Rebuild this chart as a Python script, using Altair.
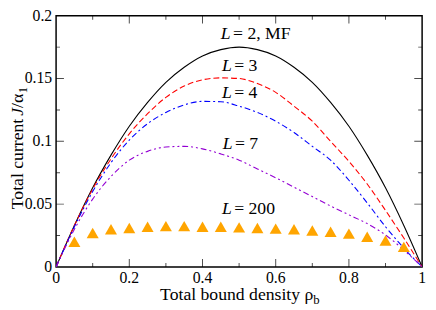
import altair as alt
import pandas as pd

# ---- data ----
rho = [0.0, 0.05, 0.10, 0.15, 0.20, 0.25, 0.30, 0.35, 0.40, 0.45, 0.50,
       0.55, 0.60, 0.65, 0.70, 0.75, 0.80, 0.85, 0.90, 0.95, 1.0]
j_l2 = [0.0, 0.033, 0.063, 0.089, 0.112, 0.131, 0.147, 0.159, 0.168, 0.173, 0.175,
        0.173, 0.168, 0.159, 0.147, 0.131, 0.112, 0.089, 0.063, 0.033, 0.0]
j_l3 = [0.0, 0.033, 0.062, 0.086, 0.106, 0.122, 0.135, 0.144, 0.149, 0.1505, 0.150,
        0.146, 0.139, 0.128, 0.116, 0.100, 0.084, 0.066, 0.045, 0.023, 0.0]
j_l4 = [0.0, 0.032, 0.060, 0.083, 0.101, 0.114, 0.123, 0.129, 0.1318, 0.1315, 0.128,
        0.123, 0.116, 0.107, 0.096, 0.085, 0.069, 0.051, 0.032, 0.015, 0.0]
j_l7 = [0.0, 0.030, 0.054, 0.072, 0.085, 0.092, 0.0955, 0.096, 0.094, 0.090, 0.085,
        0.078, 0.071, 0.0635, 0.056, 0.0485, 0.0415, 0.0345, 0.0255, 0.0135, 0.0]
rho_l200 = [0.05, 0.10, 0.15, 0.20, 0.25, 0.30, 0.35, 0.40, 0.45, 0.50,
            0.55, 0.60, 0.65, 0.70, 0.75, 0.80, 0.85, 0.90, 0.95]
j_l200 = [0.020, 0.027, 0.030, 0.031, 0.032, 0.0325, 0.0325, 0.032, 0.032, 0.0315,
          0.031, 0.0305, 0.030, 0.029, 0.028, 0.0265, 0.024, 0.021, 0.016]

label_x = [0.450, 0.453, 0.453, 0.455, 0.453]
label_y = [0.1812, 0.1563, 0.1341, 0.0939, 0.0421]
label_rest = ["= 2, MF", "= 3", "= 4", "= 7", "= 200"]

x_ticks = [0, 0.2, 0.4, 0.6, 0.8, 1]
x_tick_labels = ["0", "0.2", "0.4", "0.6", "0.8", "1"]
y_ticks = [0, 0.05, 0.1, 0.15, 0.2]
y_tick_labels = ["0", "0.05", "0.1", "0.15", "0.2"]
x_minor = [0.1, 0.3, 0.5, 0.7, 0.9]
y_minor = [0.025, 0.075, 0.125, 0.175]

# ---- chart ----
W, H = 373, 256
FONT = "Liberation Serif"
xs = alt.Scale(domain=[0, 1], nice=False, zero=False)
ys = alt.Scale(domain=[0, 0.2], nice=False, zero=False)


def X(f):
    return alt.X(f, scale=xs, axis=None)


def Y(f):
    return alt.Y(f, scale=ys, axis=None)


def curve(vals, color, dash=None):
    df = pd.DataFrame({"rho": rho, "J": vals})
    kw = dict(color=color, strokeWidth=1.1, interpolate="monotone", clip=True)
    if dash:
        kw["strokeDash"] = dash
    return alt.Chart(df).mark_line(**kw).encode(x=X("rho:Q"), y=Y("J:Q"))


lines = [
    curve(j_l2, "black"),
    curve(j_l3, "#ff0000", [6, 3]),
    curve(j_l4, "#0000ff", [6, 3, 2, 3]),
    curve(j_l7, "#9400d3", [6, 3, 2, 3, 2, 3]),
]

tri = alt.Chart(pd.DataFrame({"rho": rho_l200, "J": j_l200})).mark_point(
    shape="triangle-up", filled=True, size=150, color="#ffa500", opacity=1
).encode(x=X("rho:Q"), y=Y("J:Q"))


def xtick(vals, pos, size):
    return alt.Chart(pd.DataFrame({"rho": vals})).mark_tick(
        color="black", size=size, thickness=1, clip=True
    ).encode(x=X("rho:Q"), y=alt.value(pos))


def ytick(vals, pos, size):
    return alt.Chart(pd.DataFrame({"J": vals})).mark_tick(
        color="black", size=size, thickness=1, clip=True
    ).encode(y=Y("J:Q"), x=alt.value(pos))


ticks = [
    xtick(x_ticks[1:-1], H, 16), xtick(x_ticks[1:-1], 0, 16),
    xtick(x_minor, H, 8), xtick(x_minor, 0, 8),
    ytick(y_ticks[1:-1], 0, 16), ytick(y_ticks[1:-1], W, 16),
    ytick(y_minor, 0, 8), ytick(y_minor, W, 8),
]

xlab = alt.Chart(pd.DataFrame({"rho": x_ticks, "t": x_tick_labels})).mark_text(
    font=FONT, fontSize=16, align="center", baseline="top", color="black"
).encode(x=X("rho:Q"), y=alt.value(H + 3), text="t:N")
ylab = alt.Chart(pd.DataFrame({"J": y_ticks, "t": y_tick_labels})).mark_text(
    font=FONT, fontSize=16, align="right", baseline="middle", color="black"
).encode(y=Y("J:Q"), x=alt.value(-4), text="t:N")

lab_df = pd.DataFrame({"x": label_x, "y": label_y, "rest": label_rest})
lab_L = alt.Chart(lab_df).mark_text(
    text="L", font=FONT, fontStyle="italic", fontSize=18, align="left",
    baseline="alphabetic", color="black"
).encode(x=X("x:Q"), y=Y("y:Q"))
lab_rest = alt.Chart(lab_df).mark_text(
    font=FONT, fontSize=18, align="left", baseline="alphabetic", color="black", dx=12.5
).encode(x=X("x:Q"), y=Y("y:Q"), text="rest:N")

one = pd.DataFrame({"a": [0]})


def txt(t, x, y, size=18, style="normal", angle=0, align="left"):
    kw = dict(text=t, font=FONT, fontSize=size, fontStyle=style, align=align,
              baseline="alphabetic", color="black")
    if angle:
        kw["angle"] = angle
    return alt.Chart(one).mark_text(**kw).encode(x=alt.value(x), y=alt.value(y))


titles = [
    txt("Total bound density ρ", 106, 290),
    txt("b", 262, 294, size=13),
    txt("Total current", -34, 105, angle=270, align="right"),
    txt("J", -34, 102, style="italic", angle=270),
    txt("/α", -34, 94, angle=270),
    txt("1", -30, 79, size=13, angle=270),
]

chart = alt.layer(*lines, tri, *ticks, xlab, ylab, lab_L, lab_rest, *titles).properties(
    width=W, height=H,
    background="white",
    autosize=alt.AutoSizeParams(type="none"),
    padding={"left": 49, "top": 5, "right": 6, "bottom": 40},
).configure_view(stroke="black", strokeWidth=1.5)

chart.save("out.html", embed_options={"renderer": "svg", "actions": False})
